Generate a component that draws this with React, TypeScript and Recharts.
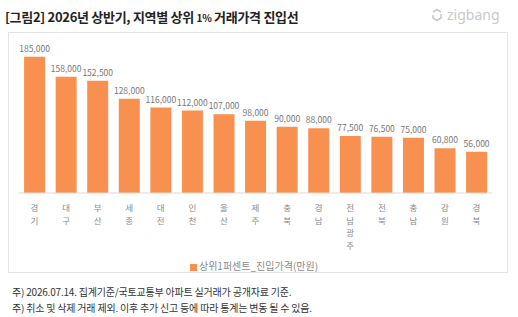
import React from 'react'
import { BarChart, Bar, XAxis, YAxis, LabelList, Legend } from 'recharts'

const REGIONS = ['경기', '대구', '부산', '세종', '대전', '인천', '울산', '제주', '충북', '경남', '전남광주', '전북', '충남', '강원', '경북']
const ENTRY_PRICE = [185000, 158000, 152500, 128000, 116000, 112000, 107000, 98000, 90000, 88000, 77500, 76500, 75000, 60800, 56000]
const SERIES_NAME = '상위1퍼센트_진입가격(만원)'
const NOTES = [
  '주) 2026.07.14. 집계기준/국토교통부 아파트 실거래가 공개자료 기준.',
  '주) 취소 및 삭제 거래 제외. 이후 추가 신고 등에 따라 통계는 변동 될 수 있음.',
]

const FONT = '"Noto Sans CJK KR", "Noto Sans", sans-serif'
const ORANGE = '#F8914F'

const data = REGIONS.map((region, i) => ({ region, price: ENTRY_PRICE[i] }))

// region names are stacked one syllable per line
function StackedTick({ x, y, payload }: any) {
  const chars = String(payload.value).split('')
  return (
    <g>
      {chars.map((c, i) => (
        <text key={i} x={x} y={y + 10 + i * 12.5} textAnchor="middle" fill="#8a8a8a" fontSize={8.5} fontFamily={FONT}>
          {c}
        </text>
      ))}
    </g>
  )
}

function ZigbangMark() {
  return (
    <div style={{ position: 'absolute', left: 430, top: 5, display: 'flex', alignItems: 'center', gap: 3, color: '#c9c9c9', fontFamily: '"Noto Sans", sans-serif', fontSize: 14 }}>
      <svg width={14} height={14} viewBox="0 0 14 14">
        <path d="M3 4 L7 1.5 L11 4 M11 6 L11 10 L7 12.5 L3 10 L3 7" fill="none" stroke="#c9c9c9" strokeWidth={1.6} />
      </svg>
      <span>zigbang</span>
    </div>
  )
}

export default function App() {
  return (
    <div style={{ position: 'absolute', left: 0, top: 0, width: 518, height: 317, background: '#fff', fontFamily: FONT }}>
      <div style={{ position: 'absolute', left: 5, top: 7, fontSize: 13, fontWeight: 700, color: '#222', letterSpacing: -0.3, whiteSpace: 'nowrap' }}>
        [그림2] 2026년 상반기, 지역별 상위 <span style={{ fontSize: 10 }}>1%</span> 거래가격 진입선
      </div>
      <ZigbangMark />
      <div style={{ position: 'absolute', left: 8, top: 32, width: 500, height: 241, border: '1px solid #e4e4e4', boxSizing: 'border-box' }} />

      <div style={{ position: 'absolute', left: 0, top: 0 }}>
        <BarChart width={518} height={317} data={data} margin={{ top: 45.7, right: 25.7, left: 18.7, bottom: 64 }} barCategoryGap="17%">
          <XAxis
            dataKey="region"
            interval={0}
            height={60}
            tickLine={false}
            axisLine={{ stroke: '#d9d9d9' }}
            tick={<StackedTick />}
          />
          <YAxis hide domain={[0, 200000]} />
          <Legend
            verticalAlign="middle"
            align="center"
            iconType="square"
            iconSize={7}
            wrapperStyle={{ top: 258, left: 0, width: 518, fontSize: 10, fontFamily: FONT }}
            formatter={(v: string) => <span style={{ color: '#8a8a8a', marginLeft: -2 }}>{v}</span>}
          />
          <Bar dataKey="price" name={SERIES_NAME} fill={ORANGE} isAnimationActive={false}>
            <LabelList
              dataKey="price"
              position="top"
              fill="#777"
              fontSize={8.5}
              fontFamily={FONT}
              formatter={(v: any) => Number(v).toLocaleString('en-US')}
            />
          </Bar>
        </BarChart>
      </div>

      {NOTES.map((t, i) => (
        <div key={i} style={{ position: 'absolute', left: 12, top: 284 + i * 16, fontSize: 10, color: '#333', whiteSpace: 'nowrap', letterSpacing: -0.2 }}>
          {t}
        </div>
      ))}
    </div>
  )
}
